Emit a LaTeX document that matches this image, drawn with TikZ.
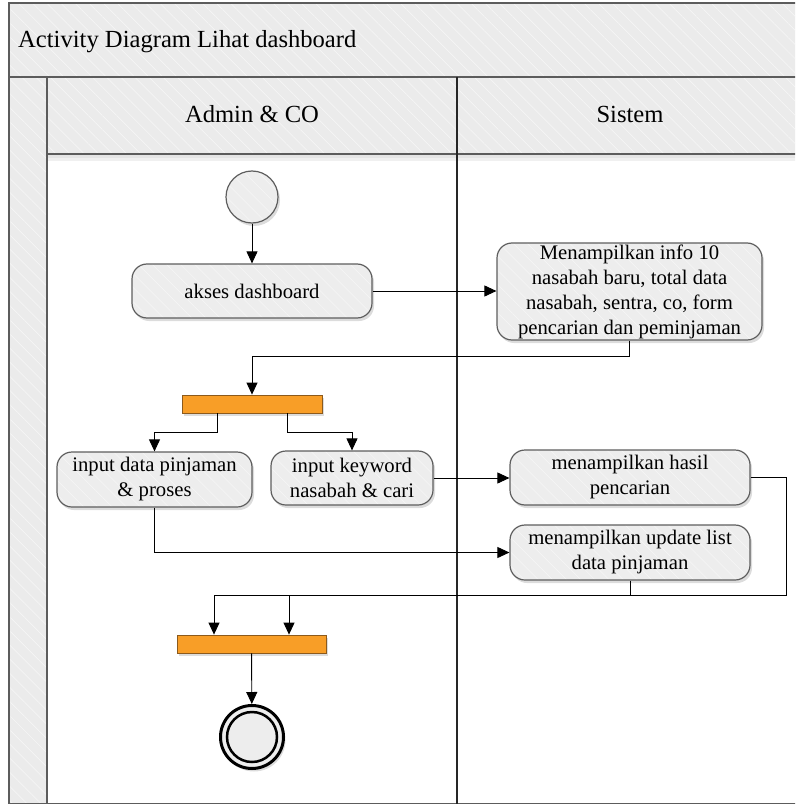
\documentclass[tikz,border=0pt]{standalone}
\usepackage{fontspec}
\setmainfont{Liberation Serif}
\usetikzlibrary{arrows.meta,shadows,patterns.meta,calc}

\definecolor{paneGrey}{HTML}{EBEBEB}
\definecolor{hatchGrey}{HTML}{F5F5F5}
\definecolor{frameGrey}{HTML}{5C5C5C}
\definecolor{nodeGrey}{HTML}{EDEDED}
\definecolor{edgeGrey}{HTML}{5E5E5E}
\definecolor{barOrange}{HTML}{F89E27}
\definecolor{barEdge}{HTML}{8C5A1C}

\newcommand\actfont{\fontsize{20.7}{25}\selectfont}
\newcommand\lanefont{\fontsize{24.6}{28}\selectfont}

\tikzset{
  hatchfill/.style={preaction={fill=#1},
    preaction={pattern={Lines[angle=-45,distance=10pt,line width=0.7pt]},pattern color=hatchGrey}},
  frameline/.style={draw=frameGrey, line width=1.5pt},
  softshadow/.style={drop shadow={opacity=0.28,shadow xshift=2pt,shadow yshift=-3pt}},
  action/.style={softshadow, hatchfill=nodeGrey, draw=edgeGrey, line width=1.2pt,
    rounded corners=15pt, align=center, font=\actfont, inner sep=0pt},
  startnode/.style={circle, softshadow, hatchfill=nodeGrey, draw=edgeGrey, line width=1.2pt,
    minimum size=52pt, inner sep=0pt},
  endnode/.style={circle, draw=black, line width=3pt, fill=nodeGrey, softshadow,
    minimum size=63pt, inner sep=0pt},
  syncbar/.style={rectangle, draw=barEdge, line width=0.8pt, fill=barOrange, softshadow,
    inner sep=0pt, minimum height=18pt},
  flow/.style={draw=black, line width=0.9pt, -{Triangle[length=12pt,width=11pt]}},
  lanelabel/.style={font=\lanefont, inner sep=0pt},
}

\begin{document}
\begin{tikzpicture}[x=1pt,y=-1pt]
\useasboundingbox (0,0) rectangle (795,805);
\clip (0,0) rectangle (795,805);

% swimlane bands
\path[hatchfill=paneGrey] (9,3) rectangle (815,77);
\path[hatchfill=paneGrey] (9,77) rectangle (47,803.5);
\path[hatchfill=paneGrey] (47,77) rectangle (815,154);
\fill[black, opacity=0.10] (47,154) rectangle (815,158);
\fill[black, opacity=0.06] (47,158) rectangle (815,161);

% frame and lane borders
\draw[frameline] (815,3) -- (9,3) -- (9,803.5) -- (815,803.5);
\draw[frameline] (9,77) -- (815,77);
\draw[frameline] (47,77) -- (47,803.5);
\draw[frameline] (47,154) -- (815,154);
\draw[draw=black!85, line width=1.3pt] (457,77) -- (457,803.5);

% titles
\node[lanelabel, anchor=base west] (title) at (18,47.3) {Activity Diagram Lihat dashboard};
\node[lanelabel, anchor=base] (laneAdmin) at (252,123) {Admin \& CO};
\node[lanelabel, anchor=base] (laneSistem) at (630,123) {Sistem};

% activity nodes
\node[startnode] (start) at (252,197) {};
\node[action, minimum width=240pt, minimum height=54pt] (akses) at (252,291) {akses dashboard};
\node[action, minimum width=265pt, minimum height=97pt] (info) at (629.5,291.5)
  {Menampilkan info 10\\nasabah baru, total data\\nasabah, sentra, co, form\\pencarian dan peminjaman};
\node[syncbar, minimum width=140pt] (fork) at (252,404) {};
\node[action, minimum width=195pt, minimum height=55pt] (inpinj) at (154.5,479.5)
  {input data pinjaman\\\& proses};
\node[action, minimum width=162pt, minimum height=54pt] (inkey) at (352,478)
  {input keyword\\nasabah \& cari};
\node[action, minimum width=240pt, minimum height=55pt] (hasil) at (630,477.5)
  {menampilkan hasil\\pencarian};
\node[action, minimum width=240pt, minimum height=55pt] (update) at (630,552.5)
  {menampilkan update list\\data pinjaman};
\node[syncbar, minimum width=149pt] (join) at (251.5,644) {};
\node[endnode] (finish) at (252,737) {};
\draw[black, line width=2.5pt, fill=nodeGrey] (finish.center) circle (25pt);

\coordinate (loopCorner) at (786,595);

% control flow
\draw[flow] (start) -- (akses);
\draw[flow] (akses.east) -- (akses.east -| info.west);
\draw[flow] (info.south) -- ++(0,16) -| (fork.north);
\draw[flow] ([xshift=-35pt]fork.south) -- ++(0,19) -| (inpinj.north);
\draw[flow] ([xshift=35pt]fork.south) -- ++(0,19) -| (inkey.north);
\draw[flow] (inkey.east) -- (inkey.east -| hasil.west);
\draw[flow] (inpinj.south) |- (update.west);
\draw[flow] (hasil.east) -| (loopCorner) -| ([xshift=-37.5pt]join.north);
\draw[flow] (update.south) -- ++(0,15) -| ([xshift=37.5pt]join.north);
\draw[flow] (join) -- (finish);
\end{tikzpicture}
\end{document}
